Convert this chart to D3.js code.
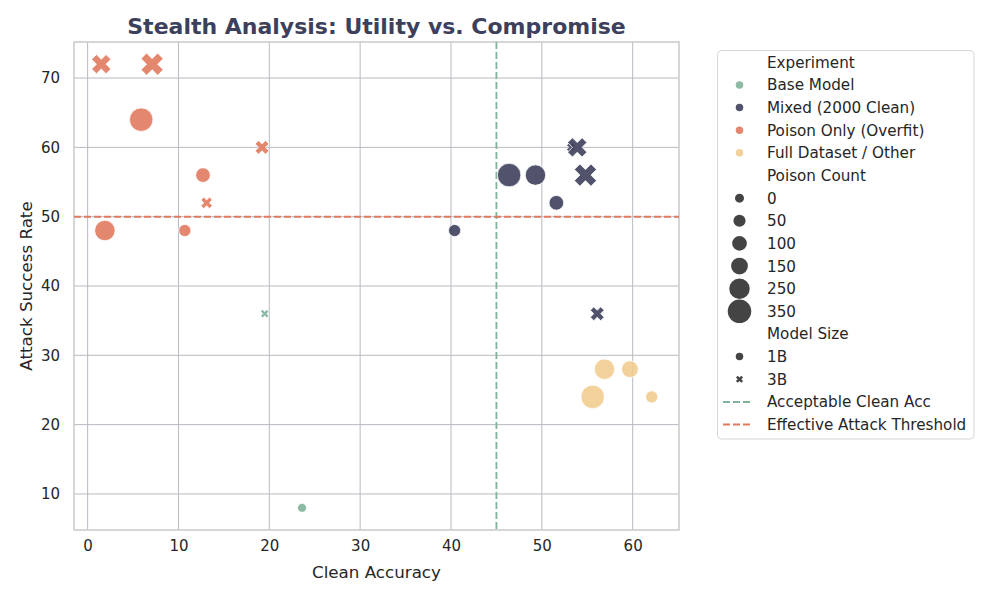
<!DOCTYPE html>
<html><head><meta charset="utf-8">
<script src="https://cdn.jsdelivr.net/npm/d3@7"></script>
<style>body{margin:0;background:#fff} text{font-family:"DejaVu Sans",sans-serif}</style>
</head><body><svg id="c" width="1000" height="600"></svg>
<script>
const experiments = ["Base Model","Mixed (2000 Clean)","Poison Only (Overfit)","Full Dataset / Other"];
const expColors = ["#81b29a","#3d405b","#e07a5f","#f2cc8f"];
const pointExperiment = ["Base Model","Base Model",
  "Poison Only (Overfit)","Poison Only (Overfit)","Poison Only (Overfit)","Poison Only (Overfit)",
  "Poison Only (Overfit)","Poison Only (Overfit)","Poison Only (Overfit)","Poison Only (Overfit)",
  "Mixed (2000 Clean)","Mixed (2000 Clean)","Mixed (2000 Clean)","Mixed (2000 Clean)",
  "Mixed (2000 Clean)","Mixed (2000 Clean)","Mixed (2000 Clean)","Mixed (2000 Clean)",
  "Full Dataset / Other","Full Dataset / Other","Full Dataset / Other","Full Dataset / Other"];
const pointModelSize = ["1B","3B","1B","1B","1B","1B","3B","3B","3B","3B","1B","1B","1B","1B","3B","3B","3B","3B","1B","1B","1B","1B"];
const pointPoisonCount = [0,0,50,100,250,350,50,100,250,350,50,100,250,350,0,100,250,350,50,150,250,350];
const pointCleanAcc = [23.6,19.5,10.7,12.7,1.9,5.9,13.1,19.2,1.5,7.1,40.4,51.6,49.3,46.4,53.2,56.1,53.9,54.8,62.1,59.7,56.9,55.6];
const pointASR = [8,36,48,56,48,64,52,60,72,72,48,52,56,56,60,36,60,56,24,28,28,24];
const xTicks = [0,10,20,30,40,50,60];
const yTicks = [10,20,30,40,50,60,70];
const sizeLegendValues = [0,50,100,150,250,350];
const modelSizes = ["1B","3B"];
const cleanAccThreshold = 45;
const asrThreshold = 50;

const svg = d3.select("#c");
const L=74,R=679,T=42,B=530;
const x = d3.scaleLinear().domain([-1.5,65.1]).range([L,R]);
const y = d3.scaleLinear().domain([4.8,75.2]).range([B,T]);
const color = d3.scaleOrdinal().domain(experiments).range(expColors);
const area = d3.scaleLinear().domain([0,350]).range([81,552]);
const diam = v => Math.sqrt(area(v));

function xPath(d){
  const pts=[[-1,-3],[1,-3],[1,-1],[3,-1],[3,1],[1,1],[1,3],[-1,3],[-1,1],[-3,1],[-3,-1],[-1,-1]];
  const c=Math.SQRT1_2;
  return "M"+pts.map(([a,b])=>{const px=a/6*d, py=b/6*d; return [(px*c-py*c).toFixed(2),(px*c+py*c).toFixed(2)].join(",");}).join("L")+"Z";
}
function circlePath(d){ return d3.symbol(d3.symbolCircle, Math.PI*d*d/4)(); }
function marker(size, d){ return size==="3B" ? xPath(d) : circlePath(d); }

// grid
const g = svg.append("g");
g.selectAll(".gx").data(xTicks).join("line").attr("x1",d=>x(d)).attr("x2",d=>x(d)).attr("y1",T).attr("y2",B)
  .attr("stroke","#b9b9c2").attr("stroke-width",1);
g.selectAll(".gy").data(yTicks).join("line").attr("y1",d=>y(d)).attr("y2",d=>y(d)).attr("x1",L).attr("x2",R)
  .attr("stroke","#b9b9c2").attr("stroke-width",1);

// axes
const xa = svg.append("g").attr("transform",`translate(0,${B})`).call(d3.axisBottom(x).tickValues(xTicks).tickSize(0).tickPadding(10));
const ya = svg.append("g").attr("transform",`translate(${L},0)`).call(d3.axisLeft(y).tickValues(yTicks).tickSize(0).tickPadding(14));
[xa,ya].forEach(a=>{a.select(".domain").remove(); a.selectAll("text").attr("font-size","15px").attr("fill","#262626").attr("font-family","DejaVu Sans");});

// spines
svg.append("rect").attr("x",L).attr("y",T).attr("width",R-L).attr("height",B-T).attr("fill","none").attr("stroke","#cccccc").attr("stroke-width",1.6);

// threshold lines
svg.append("line").attr("x1",x(cleanAccThreshold)).attr("x2",x(cleanAccThreshold)).attr("y1",T).attr("y2",B)
  .attr("stroke","#81b29a").attr("stroke-width",1.8).attr("stroke-dasharray","7,3");
svg.append("line").attr("y1",y(asrThreshold)).attr("y2",y(asrThreshold)).attr("x1",L).attr("x2",R)
  .attr("stroke","#e07a5f").attr("stroke-width",2).attr("stroke-dasharray","7,3");

// points
const pts = pointExperiment.map((e,i)=>({e, m:pointModelSize[i], p:pointPoisonCount[i], cx:pointCleanAcc[i], a:pointASR[i]}));
svg.append("g").selectAll("path").data(pts).join("path")
  .attr("transform",d=>`translate(${x(d.cx)},${y(d.a)})`)
  .attr("d",d=>marker(d.m, diam(d.p)))
  .attr("fill",d=>color(d.e)).attr("fill-opacity",0.9)
  .attr("stroke","#fff").attr("stroke-width",0.8);

// title and labels
svg.append("text").attr("x",(L+R)/2).attr("y",34).attr("text-anchor","middle").attr("font-size","22px")
  .attr("font-weight","bold").attr("fill","#3d405b").text("Stealth Analysis: Utility vs. Compromise");
svg.append("text").attr("x",(L+R)/2).attr("y",578).attr("text-anchor","middle").attr("font-size","16.7px").attr("fill","#262626").text("Clean Accuracy");
svg.append("text").attr("transform",`translate(32,${(T+B)/2}) rotate(-90)`).attr("text-anchor","middle").attr("font-size","16.7px").attr("fill","#262626").text("Attack Success Rate");

// legend
const lg = svg.append("g");
lg.append("rect").attr("x",717.5).attr("y",50.5).attr("width",256.5).attr("height",388.5).attr("rx",4)
  .attr("fill","#fff").attr("stroke","#d6d6d6").attr("stroke-width",1);
const rows=[];
rows.push({t:"Experiment"});
experiments.forEach(e=>rows.push({t:e, kind:"hue", e}));
rows.push({t:"Poison Count"});
sizeLegendValues.forEach(v=>rows.push({t:String(v), kind:"size", v}));
rows.push({t:"Model Size"});
modelSizes.forEach(m=>rows.push({t:m, kind:"style", m}));
rows.push({t:"Acceptable Clean Acc", kind:"line", c:"#81b29a"});
rows.push({t:"Effective Attack Threshold", kind:"line", c:"#e07a5f"});
const ry0=62.3, rdy=22.64, mx=739.5, tx=767;
rows.forEach((r,i)=>{
  const yy=ry0+i*rdy;
  lg.append("text").attr("x",tx).attr("y",yy).attr("dy","0.36em").attr("font-size","15.2px").attr("fill","#262626").text(r.t);
  if(r.kind==="hue") lg.append("path").attr("transform",`translate(${mx},${yy})`).attr("d",circlePath(7.5)).attr("fill",color(r.e)).attr("fill-opacity",0.9);
  if(r.kind==="size") lg.append("path").attr("transform",`translate(${mx},${yy})`).attr("d",circlePath(diam(r.v))).attr("fill","#444");
  if(r.kind==="style") lg.append("path").attr("transform",`translate(${mx},${yy})`).attr("d",marker(r.m,7.5)).attr("fill","#444");
  if(r.kind==="line") lg.append("line").attr("x1",723).attr("x2",753).attr("y1",yy).attr("y2",yy).attr("stroke",r.c).attr("stroke-width",2).attr("stroke-dasharray","7,3");
});
</script></body></html>
